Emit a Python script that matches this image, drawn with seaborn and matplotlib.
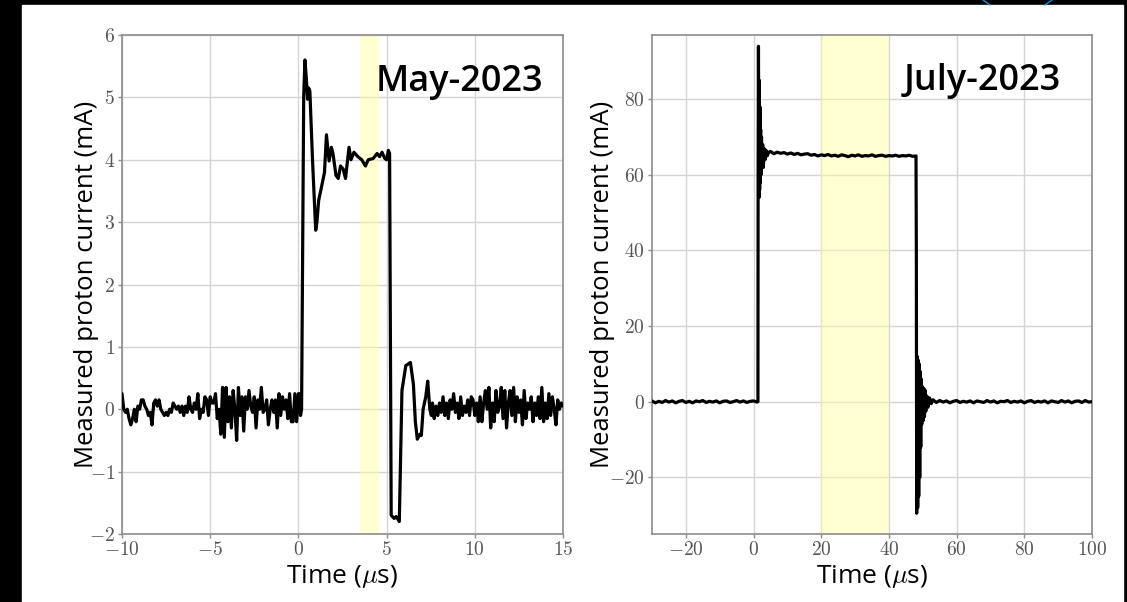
import numpy as np
import pandas as pd
import matplotlib
matplotlib.use("Agg")
import matplotlib.pyplot as plt
import seaborn as sns
from matplotlib.patches import Rectangle
from matplotlib.lines import Line2D
from matplotlib.ticker import FuncFormatter, MultipleLocator

# ---- May-2023 trace (mA vs us) ----
may_pre = [0.25, 0.0, -0.05, 0.0, -0.15, -0.25, -0.15, 0.0, -0.2, 0.05,
           0.0, 0.15, 0.15, 0.05, 0.0, -0.1, -0.05, -0.25, 0.1, 0.15,
           0.05, 0.15, 0.0, -0.05, -0.1, -0.05, -0.1, 0.0, -0.05, 0.1,
           0.05, 0.0, 0.05, -0.05, 0.05, -0.1, 0.05, -0.05, 0.2, 0.0,
           -0.05, 0.1, 0.0, 0.25, -0.15, 0.0, -0.05, 0.2, 0.15, -0.1,
           0.2, 0.1, 0.1, 0.25, -0.15, 0.0, -0.4, 0.35, -0.45, 0.35,
           -0.2, 0.2, -0.3, 0.3, 0.0, -0.5, 0.35, -0.1, 0.2, -0.35,
           0.2, 0.0, 0.3, 0.05, -0.05, 0.2, -0.3, 0.15, 0.0, 0.35,
           -0.05, 0.0, 0.15, -0.25, 0.0, 0.15, -0.05, 0.15, -0.3, 0.25,
           -0.1, 0.2, 0.0, 0.15, -0.15, 0.25, -0.2, -0.2, 0.25, -0.2,
           0.25]
may_pulse_t = [0.05, 0.12, 0.18, 0.3, 0.37, 0.45, 0.52, 0.58, 0.65, 0.8,
               0.98, 1.05, 1.15, 1.3, 1.48, 1.59, 1.74, 1.87, 1.96, 2.13,
               2.26, 2.39, 2.54, 2.67, 2.87, 2.98, 3.15, 3.37, 3.59, 3.8,
               3.96, 4.24, 4.46, 4.6, 4.74, 4.9, 5.0, 5.1, 5.17, 5.26,
               5.43, 5.54, 5.72, 5.87, 6.09, 6.35, 6.52, 6.63, 6.74, 6.89,
               6.97, 7.07, 7.22, 7.33, 7.45, 7.54]
may_pulse_v = [0.25, -0.1, 0.0, 5.0, 5.6, 5.3, 4.97, 5.15, 5.1, 4.0,
               2.87, 3.0, 3.35, 3.55, 3.8, 4.4, 3.98, 4.2, 4.1, 3.75,
               3.7, 3.9, 3.85, 3.7, 4.2, 4.0, 4.12, 4.05, 4.0, 3.9,
               4.0, 4.02, 4.1, 4.05, 4.12, 4.02, 4.0, 4.15, 4.1, -1.7,
               -1.75, -1.72, -1.8, 0.3, 0.7, 0.75, 0.4, -0.2, -0.48, -0.4,
               -0.42, 0.0, 0.2, 0.45, 0.0, -0.1]
may_post = [0.1, -0.15, 0.05, -0.1, 0.1, -0.05, 0.2, -0.1, 0.1, -0.15,
            0.15, 0.0, 0.25, -0.05, 0.1, -0.15, 0.2, -0.1, 0.05, -0.05,
            0.15, -0.1, 0.2, 0.15, -0.1, 0.1, -0.2, 0.2, -0.2, 0.1,
            0.3, 0.0, 0.35, -0.3, 0.1, -0.2, 0.3, -0.05, 0.05, 0.35,
            -0.15, 0.3, -0.3, 0.1, 0.3, -0.1, 0.35, -0.2, 0.2, -0.05,
            0.15, -0.25, 0.3, -0.15, 0.1, 0.0, 0.2, -0.2, 0.1, -0.1,
            0.2, -0.15, 0.35, -0.2, 0.1, -0.15, 0.25, -0.1, 0.2, 0.0,
            -0.25, 0.15, 0.0, 0.1, 0.05]

# ---- July-2023 trace ----
jul_pre = [0.2, -0.3, 0.1, -0.2, 0.3, -0.1, 0.2, -0.3, 0.1, 0.3,
           -0.2, 0.1, -0.3, 0.2, 0.0, 0.3, -0.2, 0.1, -0.1, 0.2,
           -0.3, 0.1, 0.2, -0.2, 0.0, 0.3, -0.1, 0.2, -0.2, 0.1,
           0.2, -0.1]
jul_pulse_t = [1.3, 1.35, 1.45, 1.55, 1.62, 1.7, 1.8, 1.9, 2.0, 2.1,
               2.2, 2.35, 2.5, 2.7, 2.9, 3.1, 3.4, 3.7, 4.0, 4.5,
               5, 6, 7, 8, 9, 10, 11, 12, 13, 14,
               15, 16, 17, 18, 19, 20, 21, 22, 23, 24,
               25, 26, 27, 28, 29, 30, 31, 32, 33, 34,
               35, 36, 37, 38, 39, 40, 41, 42, 43, 44,
               45, 46, 47, 48.0, 48.1, 48.2, 48.35, 48.5, 48.65, 48.8,
               48.95, 49.1, 49.25, 49.4, 49.55, 49.7, 49.9, 50.1, 50.3, 50.5,
               50.7, 50.9, 51.2, 51.5, 52.0, 52.5, 53.0]
jul_pulse_v = [0.0, 60, 94, 70, 54, 85, 56, 78, 58, 72,
               60, 70, 62, 68, 62, 67, 64, 66.5, 65, 66,
               66.2, 65.6, 66.0, 65.7, 65.9, 65.5, 65.8, 65.4, 65.7, 65.3,
               65.5, 65.6, 65.2, 65.4, 65.0, 65.3, 65.1, 65.4, 65.0, 65.2,
               64.9, 65.3, 65.1, 64.8, 65.2, 65.0, 65.3, 64.9, 65.1, 65.0,
               65.3, 64.9, 65.1, 65.2, 64.9, 65.1, 65.0, 65.2, 64.9, 65.1,
               65.0, 65.2, 64.9, 65.0, 40, -29.5, 12, -28, 11, -25,
               10, -20, 8, -12, 6, -6, 4, -5, 3.5, -4,
               3, -2.5, 1.5, -1.5, 1.0, -0.5, 0.5]
jul_post = [-0.2, 0.3, -0.1, 0.2, -0.3, 0.1, 0.3, -0.2, 0.1, -0.1,
            0.2, -0.3, 0.2, 0.0, -0.2, 0.3, -0.1, 0.2, -0.3, 0.1,
            0.0, 0.3, -0.2, 0.1, -0.1, 0.2, -0.3, 0.1, 0.3, -0.2,
            0.1, -0.1, 0.2, -0.3, 0.2, 0.0, -0.2, 0.3, -0.1, 0.2,
            -0.3, 0.1, 0.2, -0.2, 0.3, -0.1, 0.0]

may_t = list(np.linspace(-10, 0, len(may_pre))) + may_pulse_t + list(np.linspace(7.6, 15, len(may_post)))
may_v = may_pre + may_pulse_v + may_post
jul_t = list(np.linspace(-30, 1, len(jul_pre))) + jul_pulse_t + list(np.linspace(54, 100, len(jul_post)))
jul_v = jul_pre + jul_pulse_v + jul_post

df_may = pd.DataFrame({"t": may_t, "i": may_v})
df_jul = pd.DataFrame({"t": jul_t, "i": jul_v})

sns.set_style("whitegrid", {"axes.edgecolor": "#8c8c8c", "grid.color": "#d4d4d4",
                            "xtick.bottom": True, "ytick.left": True,
                            "text.color": "black", "axes.labelcolor": "black"})
plt.rcParams["font.family"] = ["Open Sans", "DejaVu Sans"]
plt.rcParams["mathtext.fontset"] = "cm"

W, H = 1127, 602
fig = plt.figure(figsize=(W / 100, H / 100), dpi=100, facecolor="black")
fig.patches.append(Rectangle((22 / W, 0), (1123 - 22) / W, (H - 5) / H,
                             transform=fig.transFigure, facecolor="white", zorder=-5))
# small blue decoration peeking at the top
fig.lines.append(Line2D([983 / W, 990 / W], [1, 1 - 5 / H], transform=fig.transFigure, color="#1b8fd6", lw=1))
fig.lines.append(Line2D([1052 / W, 1045 / W], [1, 1 - 5 / H], transform=fig.transFigure, color="#1b8fd6", lw=1))

ax1 = fig.add_axes([122 / W, (H - 534) / H, 441 / W, 499 / H])
ax2 = fig.add_axes([652 / W, (H - 534) / H, 440 / W, 499 / H])

fmt = FuncFormatter(lambda v, p: f"${v:g}$")

panels = [
    (ax1, df_may, (-10, 15), (-2, 6), 5, 1, (3.52, 4.56), "May-2023", (4.35, 5.11), -0.052),
    (ax2, df_jul, (-30, 100), (-35, 97), 20, 20, (20, 40), "July-2023", (44.3, 82.5), -0.084),
]
for ax, df, xl, yl, xs, ys, band, label, pos, ylab_x in panels:
    ax.axvspan(band[0], band[1], color="#ffff99", alpha=0.45, lw=0, zorder=1)
    sns.lineplot(data=df, x="t", y="i", ax=ax, color="black", linewidth=2.3,
                 estimator=None, sort=False, zorder=3)
    ax.set_xlim(*xl)
    ax.set_ylim(*yl)
    ax.xaxis.set_major_locator(MultipleLocator(xs))
    ax.yaxis.set_major_locator(MultipleLocator(ys))
    ax.xaxis.set_major_formatter(fmt)
    ax.yaxis.set_major_formatter(fmt)
    ax.tick_params(labelsize=14, labelcolor="#555555", color="#8c8c8c", length=3, width=1, pad=2)
    for s in ax.spines.values():
        s.set_linewidth(1.2)
    ax.grid(True, lw=1)
    ax.set_xlabel(r"Time ($\mu$s)", fontsize=19, labelpad=3)
    ax.set_ylabel("Measured proton current (mA)", fontsize=18.5)
    ax.yaxis.set_label_coords(ylab_x, 0.5)
    ax.text(pos[0], pos[1], label, fontsize=26, fontweight="semibold", color="black",
            family=["Open Sans", "DejaVu Sans"], ha="left", va="baseline", zorder=5)

fig.savefig("out.png", dpi=100, facecolor=fig.get_facecolor())
